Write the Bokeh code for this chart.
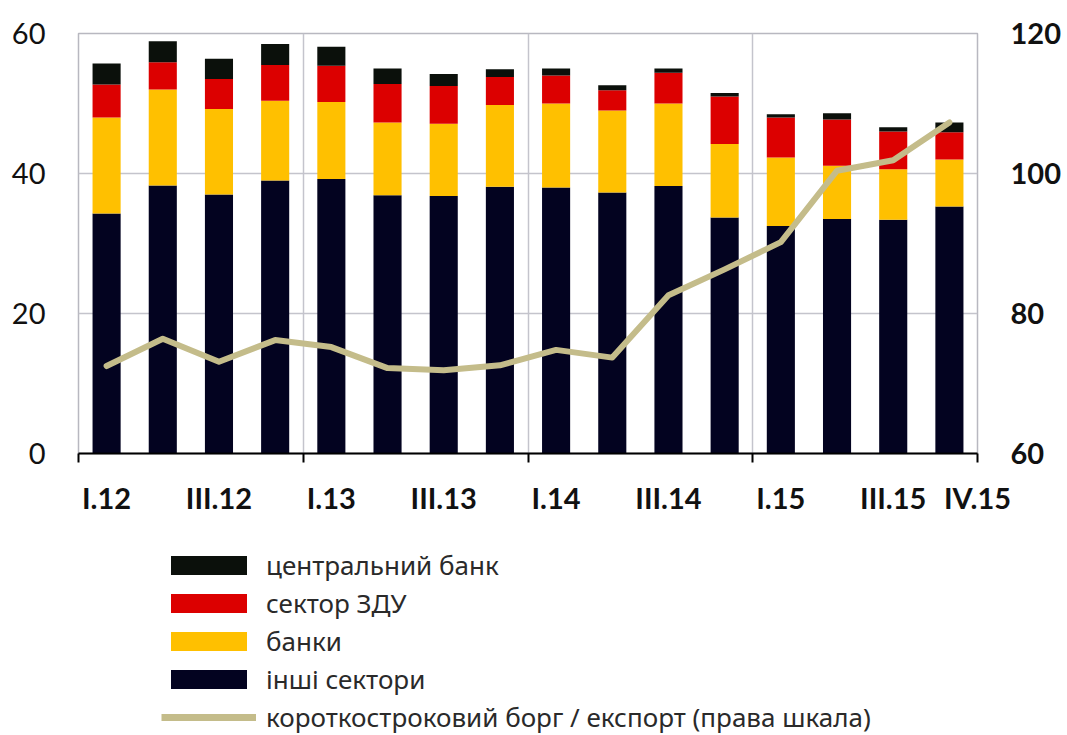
from bokeh.plotting import figure
from bokeh.layouts import column
from bokeh.models import Range1d, LinearAxis, FixedTicker, Legend, LegendItem, ColumnDataSource
from bokeh.embed import file_html
from bokeh.resources import INLINE

quarters = ["I.12", "II.12", "III.12", "IV.12", "I.13", "II.13", "III.13", "IV.13",
            "I.14", "II.14", "III.14", "IV.14", "I.15", "II.15", "III.15", "IV.15"]
other_sectors = [34.3, 38.3, 37.0, 39.0, 39.2, 36.9, 36.8, 38.1, 38.0, 37.3, 38.2, 33.7, 32.5, 33.5, 33.4, 35.3]
banks = [13.7, 13.7, 12.2, 11.4, 11.0, 10.4, 10.3, 11.7, 12.0, 11.7, 11.8, 10.5, 9.8, 7.6, 7.2, 6.7]
government = [4.7, 3.9, 4.3, 5.1, 5.2, 5.5, 5.4, 4.0, 4.0, 2.9, 4.4, 6.8, 5.7, 6.6, 5.4, 3.9]
central_bank = [3.0, 3.0, 2.9, 3.0, 2.7, 2.2, 1.7, 1.1, 1.0, 0.7, 0.6, 0.5, 0.45, 0.9, 0.6, 1.4]
debt_to_exports = [72.5, 76.4, 73.1, 76.2, 75.2, 72.2, 71.9, 72.6, 74.8, 73.7, 82.6, 86.3, 90.2, 100.4, 101.9, 107.3]

series_names = ["центральний банк", "сектор ЗДУ", "банки", "інші сектори"]
line_name = "короткостроковий борг / експорт (права шкала)"
left_ticks = [0, 20, 40, 60]
right_ticks = [60, 80, 100, 120]

COL_CB = "#0b100b"
COL_GOV = "#dc0000"
COL_BANK = "#ffc000"
COL_OTHER = "#030320"
COL_LINE = "#c4bc8a"
GRID = "#c4c4cc"

xs = list(range(len(quarters)))
source = ColumnDataSource(dict(x=xs, other=other_sectors, banks=banks, gov=government,
                               cb=central_bank, ratio=debt_to_exports))

W = 1067
H_MAIN = 545
H_LEG = 190

p = figure(width=W, height=H_MAIN, output_backend="svg", toolbar_location=None,
           x_range=Range1d(-0.5, len(quarters) - 0.5), y_range=Range1d(0, 60),
           min_border_left=78, min_border_right=90, min_border_top=33,
           min_border_bottom=H_MAIN - 453)
p.extra_y_ranges = {"right": Range1d(60, 120)}

bars = p.vbar_stack(["other", "banks", "gov", "cb"], x="x", width=0.5, source=source,
                    color=[COL_OTHER, COL_BANK, COL_GOV, COL_CB], line_width=0)
line = p.line("x", "ratio", source=source, y_range_name="right", line_color=COL_LINE,
              line_width=6, line_join="round", line_cap="round")

p.outline_line_color = "#b8b8c0"
p.outline_line_width = 1.5

# x axis: boundary ticks as minor ticks, labels every other quarter
label_pos = xs[0:-1:2] + [len(quarters) - 0.5]
label_txt = quarters[0:-1:2] + [quarters[-1]]
bounds = [-0.5 + 4 * k for k in range(5)]
xax = p.xaxis[0]
xax.ticker = FixedTicker(ticks=label_pos, minor_ticks=bounds)
xax.major_label_overrides = {pos: txt for pos, txt in zip(label_pos, label_txt)}
xax.major_tick_line_color = None
xax.major_tick_out = 0
xax.major_tick_in = 0
xax.minor_tick_out = 9
xax.minor_tick_in = 0
xax.minor_tick_line_color = "black"
xax.minor_tick_line_width = 2
xax.axis_line_color = "black"
xax.axis_line_width = 2
xax.major_label_standoff = 17
xax.major_label_text_font = "Lato"
xax.major_label_text_font_size = "29px"
xax.major_label_text_font_style = "bold"
xax.major_label_text_color = "#111111"

yax = p.yaxis[0]
yax.ticker = FixedTicker(ticks=left_ticks)
yax.axis_line_color = None
yax.major_tick_line_color = None
yax.minor_tick_line_color = None
yax.major_tick_out = 0
yax.major_label_standoff = 33
yax.major_label_text_font = "Lato"
yax.major_label_text_font_size = "29px"
yax.major_label_text_color = "#111111"

rax = LinearAxis(y_range_name="right", ticker=FixedTicker(ticks=right_ticks))
rax.axis_line_color = None
rax.major_tick_line_color = None
rax.minor_tick_line_color = None
rax.major_tick_out = 0
rax.major_label_standoff = 33
rax.major_label_text_font = "Lato"
rax.major_label_text_font_size = "29px"
rax.major_label_text_font_style = "bold"
rax.major_label_text_color = "#111111"
p.add_layout(rax, "right")

p.ygrid.ticker = FixedTicker(ticks=left_ticks)
p.ygrid.grid_line_color = GRID
p.ygrid.grid_line_width = 1.5
p.xgrid.ticker = FixedTicker(ticks=bounds[1:-1])
p.xgrid.grid_line_color = GRID
p.xgrid.grid_line_width = 1.5

# legend panel below the chart (its frame is aligned with the chart frame)
q = figure(width=W, height=H_LEG, output_backend="svg", toolbar_location=None,
           x_axis_type=None, y_axis_type=None, x_range=Range1d(0, 1), y_range=Range1d(0, 1),
           min_border=0, outline_line_color=None)
q.grid.visible = False
nan = float("nan")
swatch_cols = [COL_CB, COL_GOV, COL_BANK, COL_OTHER]
leg_renderers = [q.vbar(x=[nan], top=[nan], width=0.5, color=c, line_width=0) for c in swatch_cols]
leg_line = q.line(x=[nan, nan], y=[nan, nan], line_color=COL_LINE, line_width=7)
items = [LegendItem(label=name, renderers=[r]) for name, r in zip(series_names, leg_renderers)]
items.append(LegendItem(label=line_name, renderers=[leg_line]))
legend = Legend(items=items, location=(83, 0), orientation="vertical",
                glyph_width=95, glyph_height=24, spacing=2, label_standoff=10,
                label_height=24, padding=0, margin=0, border_line_color=None,
                background_fill_alpha=0, label_text_font="Noto Sans",
                label_text_font_size="26px", label_text_color="#2a2a2a")
q.add_layout(legend)

layout = column(p, q, spacing=0)
open("out.html", "w").write(file_html(layout, INLINE))
